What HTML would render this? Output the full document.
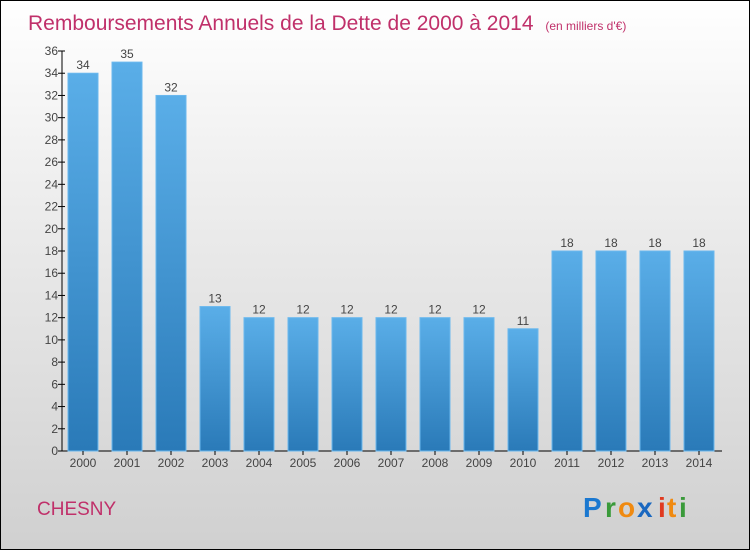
<!DOCTYPE html>
<html><head><meta charset="utf-8"><style>
body{margin:0}
#c{width:750px;height:550px;position:relative;box-sizing:border-box;border:1px solid #000;background:linear-gradient(#ffffff,#f0f0f0 30%,#d0d0d0);font-family:"Liberation Sans",sans-serif;overflow:hidden}
</style></head><body>
<div id="c">
<svg id="s" width="750" height="550" style="position:absolute;left:0;top:0">
<defs><linearGradient id="g" x1="0" y1="0" x2="0" y2="1"><stop offset="0" stop-color="#5aaee8"/><stop offset="1" stop-color="#2a7ab8"/></linearGradient></defs>
<text x="27" y="29" font-size="21" fill="#c0306a">Remboursements Annuels de la Dette de 2000 à 2014 <tspan font-size="12" dx="6">(en milliers d'€)</tspan></text>
<text x="36" y="514" font-size="19" fill="#c0306a">CHESNY</text>
<g font-size="28" font-weight="bold">
<text x="582" y="516" fill="#1a78d0">P</text><text x="604" y="516" fill="#3a9a3a">r</text><text x="617" y="516" fill="#f08a10">o</text><text x="636" y="516" fill="#1a68c0">x</text><text x="657" y="516" fill="#e03a20">i</text><text x="666" y="516" fill="#f08a10">t</text><text x="678" y="516" fill="#3a9a3a">i</text>
</g>
<g id="plot"></g>
</svg>
</div>
<script>
const categories=["2000","2001","2002","2003","2004","2005","2006","2007","2008","2009","2010","2011","2012","2013","2014"];
const values=[34,35,32,13,12,12,12,12,12,12,11,18,18,18,18];
const yTicks=[0,2,4,6,8,10,12,14,16,18,20,22,24,26,28,30,32,34,36];
const ns="http://www.w3.org/2000/svg";
const g=document.getElementById('plot');
const y=v=>450-v*400/36;
const x=i=>82+i*44;
function mk(t,a){const e=document.createElementNS(ns,t);for(const k in a)e.setAttribute(k,a[k]);g.appendChild(e);return e;}
let ax=mk('line',{x1:61,y1:50,x2:61,y2:450,stroke:'#000'});


let bx=mk('line',{x1:61,y1:450,x2:721,y2:450,stroke:'#000'});


yTicks.forEach(v=>{
 let l=mk('line',{x1:57,y1:y(v),x2:64,y2:y(v),stroke:'#000'});
 
 
 let t=mk('text',{x:57,y:y(v)+4,'font-size':12,fill:'#444','text-anchor':'end'});
 t.textContent=v;
 
 
});
categories.forEach((c,i)=>{
 let r=mk('rect',{x:x(i)-15,y:y(values[i]),width:30,height:450-y(values[i]),fill:'url(#g)',stroke:'#6ab8ee','stroke-width':1});
 
 
 let v=mk('text',{x:x(i),y:y(values[i])-4,'font-size':12,fill:'#444','text-anchor':'middle'});
 v.textContent=values[i];
 
 
 let tk=mk('line',{x1:x(i),y1:450,x2:x(i),y2:454,stroke:'#000'});
 
 
 let t=mk('text',{x:x(i),y:466,'font-size':12,fill:'#444','text-anchor':'middle'});
 t.textContent=c;
 
 
});
</script>
</body></html>
